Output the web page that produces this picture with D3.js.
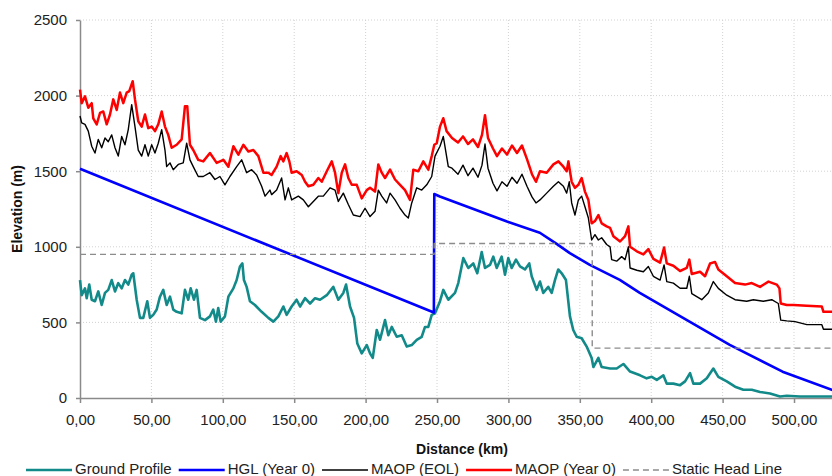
<!DOCTYPE html>
<html>
<head>
<meta charset="utf-8">
<script src="https://cdn.jsdelivr.net/npm/d3@7"></script>
<style>
  body { margin: 0; background: #fff; }
  svg { display: block; font-family: "Liberation Sans", Arial, sans-serif; }
  .axis text { font-size: 15px; fill: #222; }
  .axis path, .axis line { stroke: #8a8a8a; stroke-width: 1.5; }
  .grid line { stroke: #d2d2d2; stroke-dasharray: 1,2; }
  .title { font-size: 14px; font-weight: bold; fill: #111; }
  .legend text { font-size: 15px; fill: #222; }
</style>
</head>
<body>
<div id="chart"></div>
<script>
// distance (km), elevation (m)
const groundProfile = [
  [0,780],[1.2,680],[3.5,725],[4.7,660],[6.5,750],[8.2,650],[10.5,640],[12.8,705],[15.2,615],[17.5,695],
  [19.8,715],[22.2,780],[24.5,705],[26.8,760],[29.2,725],[31.5,780],[33.8,750],[36.2,815],[37.3,825],[39.7,650],
  [42,530],[44.3,530],[47.1,640],[49,530],[51.3,550],[53.7,585],[56,670],[58.3,715],[60.7,615],[63,670],
  [65.3,585],[67.7,570],[71.2,560],[73.5,715],[75.8,650],[77.5,725],[79.8,650],[81.7,715],[84,530],[87.5,515],
  [91,540],[93.3,585],[95.2,505],[96.8,595],[98.5,505],[101.5,540],[103.9,670],[107.4,725],[109.7,780],[112,870],
  [113.7,890],[114.8,780],[116.7,735],[119,640],[122.5,615],[127.2,570],[131.9,530],[135.4,505],[138.9,540],[142.4,605],
  [144.7,550],[148.2,605],[151.7,650],[154.1,605],[157.6,660],[161.1,625],[164.6,660],[168.1,650],[172.8,680],[177.4,735],
  [180.9,650],[184.4,695],[186.3,750],[189.1,605],[191.9,530],[194.2,360],[197.3,295],[200.8,350],[203.1,295],[205,265],
  [207.8,450],[210.1,385],[213.6,515],[215.9,415],[218.3,470],[221.8,405],[225.3,415],[228.8,340],[232.3,350],[235.8,385],
  [239.3,405],[241.6,470],[243.9,470],[246.3,550],[248.6,560],[252.1,640],[254.4,715],[257.9,650],[262.6,695],[264.9,760],
  [268.4,925],[271.9,860],[275.4,890],[278.2,825],[281.3,965],[283.6,860],[287.1,880],[289.4,935],[291.8,860],[295.3,935],
  [297.6,815],[299.9,925],[302.3,860],[305.3,915],[308.1,870],[311.6,850],[314.6,890],[316.3,805],[319.8,715],[322.1,770],
  [324.4,695],[327.9,735],[330.3,695],[332.6,780],[334.9,850],[337.3,825],[340.3,780],[343.1,540],[345.4,450],[347.8,405],
  [351.3,395],[354.8,340],[358.3,265],[359.5,205],[363,265],[365.3,205],[371.2,195],[375.8,195],[380.5,225],[385.2,175],
  [392.2,150],[396.8,130],[400.4,140],[403.9,120],[408.5,150],[410.9,95],[415.5,95],[420.2,85],[423.7,110],[427.2,165],
  [429.5,95],[434.2,95],[438.9,130],[443.5,195],[447,140],[452.9,110],[458.7,75],[464.5,55],[470.4,55],[476.2,40],
  [483.2,30],[490.2,10],[494.9,15],[504.2,10],[527,10]
];

const hglYear0 = [
  [0,1516],[247.8,565],[248.1,1349],[252,1333],[299,1167],[322,1093],[333,1024],[343,958],
  [357,881],[378,781],[392,695],[455,351],[492,174],[527,53]
];

const maopEol = [
  [0,1865],[1.2,1820],[3.5,1810],[5.8,1765],[8.2,1665],[10.5,1620],[12.8,1710],[15.2,1655],[17.5,1720],[19.8,1695],
  [22.2,1740],[24.5,1655],[26.8,1600],[29.2,1730],[31.5,1675],[33.8,1775],[36.2,1940],[38.5,1795],[40.8,1640],[43.2,1600],
  [45.5,1675],[47.8,1600],[50.2,1675],[52.5,1620],[54.8,1685],[57.2,1775],[59.5,1640],[60.7,1530],[63,1555],[65.3,1510],
  [68.8,1545],[72.3,1555],[74.7,1685],[77,1575],[79.3,1530],[82.8,1465],[86.3,1465],[91,1490],[94.5,1445],[98,1465],
  [101.5,1410],[105,1465],[109.7,1530],[113.2,1575],[116.7,1490],[120.2,1510],[123.7,1475],[127.2,1400],[129.6,1335],[133,1375],
  [134.2,1345],[137.7,1375],[141.2,1455],[143.6,1310],[145.9,1390],[148.2,1310],[152.9,1335],[156.4,1310],[159.9,1265],[163.4,1300],
  [166.9,1335],[170.4,1335],[175.1,1390],[178.6,1375],[180.9,1300],[184.4,1355],[187.9,1280],[191.4,1210],[196.1,1200],[199.6,1255],
  [203.1,1200],[206.6,1235],[208.9,1375],[211.3,1335],[214.7,1290],[217.1,1355],[220.6,1310],[224.1,1255],[227.6,1210],[229.9,1190],
  [232.3,1290],[235.8,1390],[239.3,1375],[242.8,1410],[246.3,1465],[248.6,1600],[252.1,1665],[254.4,1730],[257.9,1530],[260.5,1520],
  [264.7,1480],[268.2,1540],[271.7,1470],[275.2,1520],[278.7,1460],[281.5,1540],[283.6,1680],[285.7,1520],[289.2,1420],[292,1370],
  [295.5,1430],[299,1400],[302.5,1460],[306,1420],[309.5,1480],[313,1400],[316.5,1330],[319.3,1290],[322.1,1310],[326.8,1355],
  [331.5,1400],[335,1430],[338.5,1400],[340.8,1355],[342.6,1430],[344.3,1290],[346.6,1210],[349,1310],[351.3,1335],[353.6,1265],
  [356,1190],[358.3,1045],[360.6,1080],[363,1045],[365.3,1060],[368.8,1015],[371.2,1000],[372.3,915],[375.8,905],[379.3,935],
  [381.7,915],[384,1000],[385.2,860],[389.9,845],[394.5,835],[398,870],[401.5,805],[406.2,780],[409,880],[410.9,770],
  [415.5,760],[420.2,726],[424.9,726],[426.7,805],[428.4,690],[435.4,650],[440,695],[443.5,770],[447,725],[452.9,680],
  [458.7,650],[466.9,640],[471.5,650],[478.5,640],[484.4,650],[489,625],[490.7,515],[494.9,510],[500.7,505],[509,485],
  [519.5,485],[520.6,455],[527,455]
];

const maopYear0 = [
  [0,2040],[1.2,1950],[3.5,1995],[5.8,1920],[8.2,1950],[9.3,1850],[11.7,1810],[14,1885],[16.3,1895],[18.7,1810],
  [21,1875],[23.3,1975],[25.7,1905],[28,2020],[30.3,1950],[32.7,2020],[34.5,2030],[36.9,2095],[38.5,1975],[40.8,1830],
  [43.2,1795],[45.5,1875],[47.8,1785],[50.2,1795],[52.5,1765],[54.8,1810],[57.2,1895],[59.5,1795],[61.8,1740],[64.2,1655],
  [67.7,1675],[71.2,1710],[73.5,1930],[75.1,1930],[77,1675],[79.3,1640],[82.8,1575],[86.3,1565],[91,1620],[95.7,1555],
  [100.4,1575],[103.9,1530],[107.4,1665],[110.9,1610],[114.4,1675],[117.9,1630],[121.4,1640],[124.9,1600],[128.4,1490],[131.9,1490],
  [134.2,1475],[137.7,1530],[140.5,1600],[142.4,1565],[144.7,1620],[146.6,1565],[148.2,1490],[151.7,1500],[155.3,1475],[157.6,1430],
  [159.9,1400],[163.4,1410],[166.9,1455],[169.3,1430],[172.8,1500],[176.3,1565],[178.6,1490],[180.9,1355],[183.3,1490],[185.6,1545],
  [187.9,1455],[190.3,1410],[193.8,1410],[197.3,1320],[200.8,1375],[203.1,1390],[206.6,1365],[208.9,1545],[211.3,1490],[213.6,1455],
  [217.1,1510],[220.6,1445],[224.1,1410],[227.6,1375],[231.1,1310],[233.4,1510],[236.9,1500],[240.4,1565],[243.9,1510],[246.3,1600],
  [248.1,1675],[249.8,1685],[252.1,1795],[254.4,1850],[256.7,1765],[260.5,1720],[264.7,1690],[268.2,1730],[271.7,1680],[275.2,1710],
  [278.7,1660],[281.5,1740],[283.6,1870],[285.7,1720],[289.2,1650],[292,1600],[295.5,1650],[299,1610],[302.5,1670],[306,1620],
  [309.5,1670],[313,1580],[316.5,1480],[319.3,1430],[322.1,1500],[326.8,1490],[331.5,1545],[335,1565],[338.5,1530],[340.8,1500],
  [342,1565],[344.3,1430],[346.6,1390],[349,1410],[351.3,1455],[353.6,1365],[356,1310],[358.3,1155],[360.6,1170],[363,1210],
  [365.3,1155],[368.8,1135],[371.2,1125],[373.5,1070],[378.2,1035],[381.7,1070],[384,1135],[385.2,1000],[389.9,970],[394.5,950],
  [398,985],[401.5,920],[406.2,895],[409,995],[410.9,890],[415.5,875],[420.2,840],[424.9,860],[426.7,915],[428.4,820],
  [434.2,835],[437.7,805],[441.2,890],[444.7,900],[447,850],[452.9,805],[458.7,760],[465.7,750],[470.4,760],[476.2,735],
  [482.1,770],[487.9,750],[489.8,725],[490.7,625],[494.9,615],[499.6,615],[509,610],[519.5,605],[520.6,570],[527,570]
];

const staticHead = [
  [0,950],[248,950],[248,1022],[358.7,1022],[358.7,330],[527,330]
];

const yTicks = [0, 500, 1000, 1500, 2000, 2500];
const xTicks = [0, 50, 100, 150, 200, 250, 300, 350, 400, 450, 500];

const seriesNames = ["Ground Profile", "HGL (Year 0)", "MAOP (EOL)", "MAOP (Year 0)", "Static Head Line"];

makeProfileChart();

function makeProfileChart() {
    const margin = { top: 20, right: 0, bottom: 78, left: 80 };
    const width = 764;   // plot runs past the right edge of the picture
    const height = 476 - margin.top - margin.bottom;

    const root = d3.select("#chart").html("")
        .append("svg")
        .attr("width", 832)
        .attr("height", 476);

    const svg = root.append("g")
        .attr("transform", `translate(${margin.left},${margin.top})`);

    const x = d3.scaleLinear().domain([0, 535]).range([0, width]);
    const y = d3.scaleLinear().domain([0, 2500]).range([height, 0]);

    const locale = d3.formatLocale({ decimal: ",", thousands: ".", grouping: [3], currency: ["", ""] });
    const fmtX = locale.format(".2f");

    // gridlines
    svg.append("g")
        .attr("class", "grid")
        .selectAll("line")
        .data(yTicks.filter(d => d > 0))
        .enter().append("line")
        .attr("x1", 0).attr("x2", width)
        .attr("y1", d => y(d)).attr("y2", d => y(d));

    svg.append("g")
        .attr("class", "grid")
        .selectAll("line")
        .data(xTicks.filter(d => d > 0))
        .enter().append("line")
        .attr("x1", d => x(d)).attr("x2", d => x(d))
        .attr("y1", 0).attr("y2", height);

    // axes
    svg.append("g")
        .attr("class", "x axis")
        .attr("transform", `translate(0,${height})`)
        .call(d3.axisBottom(x).tickValues(xTicks).tickFormat(fmtX).tickSize(5).tickSizeOuter(0).tickPadding(11));

    svg.append("g")
        .attr("class", "y axis")
        .call(d3.axisLeft(y).tickValues(yTicks).tickFormat(d3.format("d")).tickSize(4).tickSizeOuter(0).tickPadding(9));

    // series
    const line = d3.line()
        .x(d => x(d[0]))
        .y(d => y(d[1]));

    const series = [
        { data: groundProfile, color: "#138a8a", width: 2.6, dash: null },
        { data: hglYear0, color: "#0000ff", width: 2.6, dash: null },
        { data: maopEol, color: "#000000", width: 1.4, dash: null },
        { data: maopYear0, color: "#ff0000", width: 2.5, dash: null },
        { data: staticHead, color: "#8c8c8c", width: 1.4, dash: "6,4" }
    ];
    series.forEach((s, i) => s.name = seriesNames[i]);

    series.forEach(s => {
        svg.append("path")
            .datum(s.data)
            .attr("fill", "none")
            .attr("stroke", s.color)
            .attr("stroke-width", s.width)
            .attr("stroke-linejoin", "round")
            .attr("stroke-dasharray", s.dash)
            .attr("d", line);
    });

    // axis titles
    root.append("text")
        .attr("class", "title")
        .attr("text-anchor", "middle")
        .attr("x", margin.left + width / 2)
        .attr("y", 454)
        .text("Distance (km)");

    root.append("text")
        .attr("class", "title")
        .attr("text-anchor", "middle")
        .attr("transform", `translate(22,${margin.top + height / 2}) rotate(-90)`)
        .text("Elevation (m)");

    // legend
    const legend = root.append("g").attr("class", "legend");
    let lx = 26;
    series.forEach(s => {
        legend.append("line")
            .attr("x1", lx).attr("x2", lx + 46)
            .attr("y1", 470).attr("y2", 470)
            .attr("stroke", s.color)
            .attr("stroke-width", s.dash ? 1.4 : (s.width > 2 ? 2.6 : 1.3))
            .attr("stroke-dasharray", s.dash);
        const t = legend.append("text")
            .attr("x", lx + 49)
            .attr("y", 474)
            .text(s.name);
        lx += 49 + t.node().getComputedTextLength() + 7;
    });
}
</script>
</body>
</html>
